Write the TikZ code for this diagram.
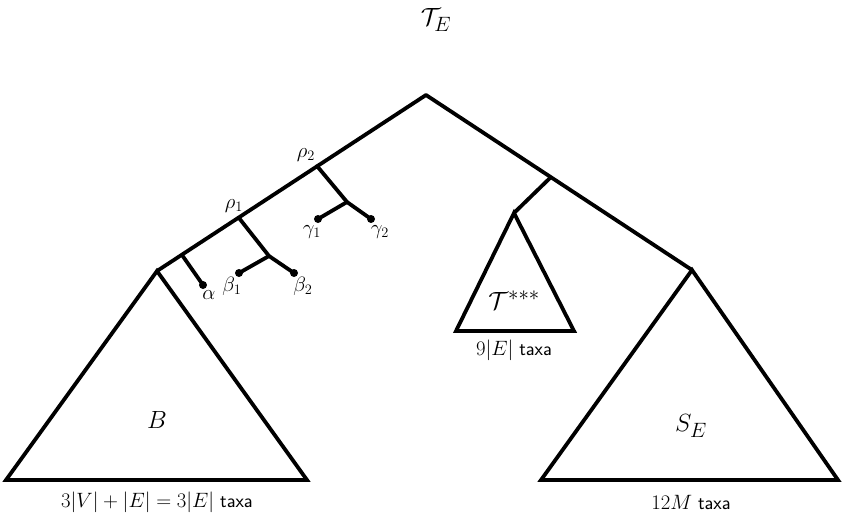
\documentclass[tikz,border=0pt]{standalone}
\usepackage{amsmath}
\begin{document}
\begin{tikzpicture}[x=1pt,y=-1pt,
  edge/.style={line width=3.8pt,line cap=round,line join=round},
  tri/.style={line width=3.8pt,line join=miter},
  leaf/.style={circle,fill=black,inner sep=0pt,minimum size=8pt},
  lbl/.style={inner sep=0pt,font=\fontsize{20}{24}\selectfont},
  big/.style={inner sep=0pt,font=\fontsize{28}{32}\selectfont},
  taxa/.style={inner sep=0pt,font=\fontsize{19.5}{23}\selectfont}]
\useasboundingbox (0,0) rectangle (843,520);
% internal points
\coordinate (root) at (426,95);
\coordinate (bA) at (157,271);
\coordinate (sA) at (692,270);
\coordinate (rmid) at (550,178);
\coordinate (tA) at (514,213);
\coordinate (r2) at (317,166);
\coordinate (r1) at (239,218);
\coordinate (ra) at (182,255);
\coordinate (bi) at (269,256);
\coordinate (gi) at (347,202);
% leaves
\node[leaf] (alpha) at (203,285) {};
\node[leaf] (b1) at (239,273) {};
\node[leaf] (b2) at (294,273) {};
\node[leaf] (g1) at (318,219) {};
\node[leaf] (g2) at (371,219) {};
% triangles
\draw[tri] (bA) -- (6,480) -- (307,480) -- cycle;
\draw[tri] (sA) -- (541,480) -- (838,480) -- cycle;
\draw[tri] (tA) -- (456,331) -- (574,331) -- cycle;
% edges
\draw[edge] (bA) -- (root) -- (sA);
\draw[edge] (rmid) -- (tA);
\draw[edge] (ra) -- (alpha.center);
\draw[edge] (r1) -- (bi) -- (b2.center);
\draw[edge] (bi) -- (b1.center);
\draw[edge] (r2) -- (gi) -- (g2.center);
\draw[edge] (gi) -- (g1.center);
% labels
\node[big] (title) at (436,20) {$\mathcal{T}_E$};
\node[lbl] (lr2) at (306,155) {$\rho_2$};
\node[lbl] (lr1) at (234,206) {$\rho_1$};
\node[lbl] (la) at (209,295) {$\alpha$};
\node[lbl] (lb1) at (232,286) {$\beta_1$};
\node[lbl] (lb2) at (303,286) {$\beta_2$};
\node[lbl] (lg1) at (312,232) {$\gamma_1$};
\node[lbl] (lg2) at (380,232) {$\gamma_2$};
\node[big] (lB) at (157,420) {$B$};
\node[big] (lS) at (691,426) {$S_E$};
\node[big] (lT) at (514,300) {$\mathcal{T}^{***}$};
\node[taxa] (t1) at (514,350) {$9|E|$ \textsf{taxa}};
\node[taxa] (t2) at (157,502) {$3|V|+|E|=3|E|$ \textsf{taxa}};
\node[taxa] (t3) at (691,502) {$12M$ \textsf{taxa}};
\end{tikzpicture}
\end{document}
